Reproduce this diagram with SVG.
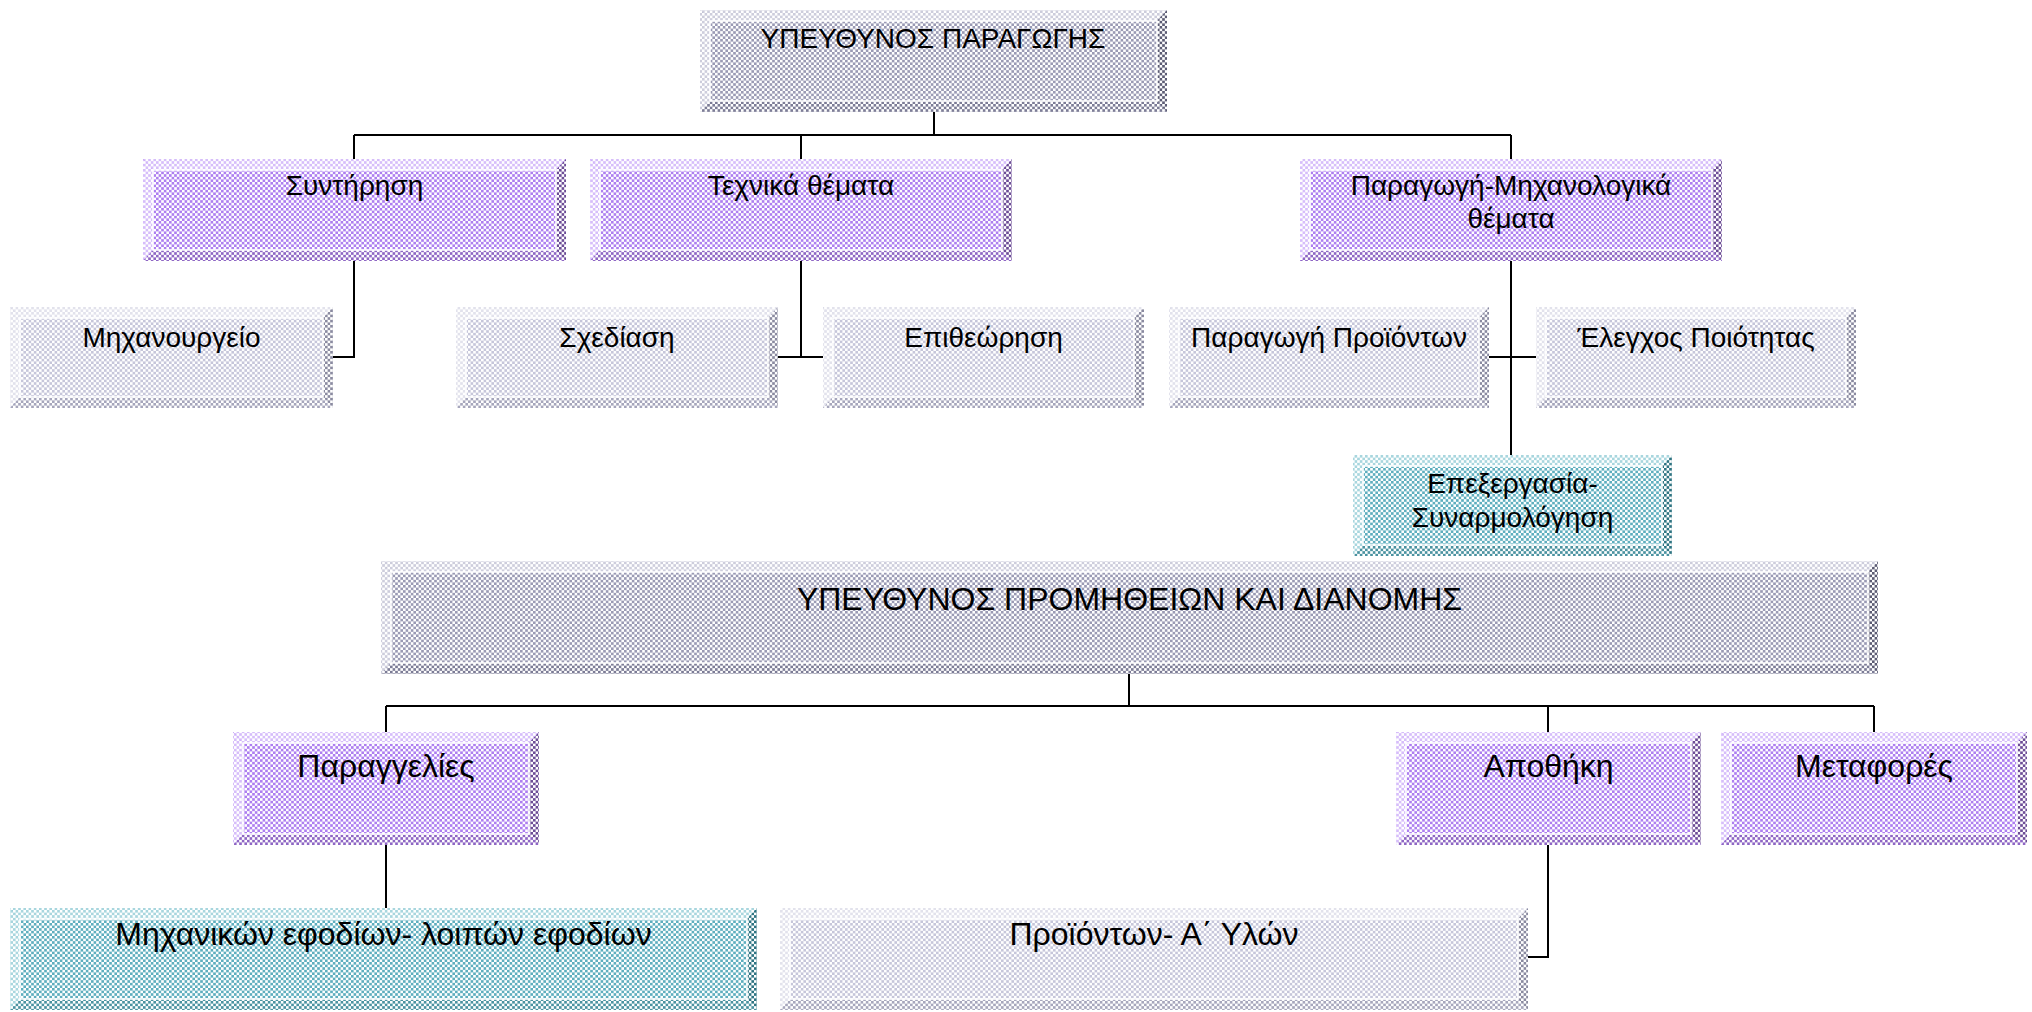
<svg xmlns="http://www.w3.org/2000/svg" width="2032" height="1012" viewBox="0 0 2032 1012">
  <defs>
    <!-- dithered fills: coloured cells alternating with white -->
    <pattern id="pF" width="5.2" height="5.2" patternUnits="userSpaceOnUse"><rect width="5.2" height="5.2" fill="#fff"/><path d="M0 0h2.6v2.6H0zM2.6 2.6h2.6v2.6H2.6z" fill="#ad7ef0"/></pattern>
    <pattern id="pL" width="5.2" height="5.2" patternUnits="userSpaceOnUse"><rect width="5.2" height="5.2" fill="#fff"/><path d="M0 0h2.6v2.6H0zM2.6 2.6h2.6v2.6H2.6z" fill="#d6bdfa"/></pattern>
    <pattern id="pR" width="5.2" height="5.2" patternUnits="userSpaceOnUse"><rect width="5.2" height="5.2" fill="#fff"/><path d="M0 0h2.6v2.6H0zM2.6 2.6h2.6v2.6H2.6z" fill="#6c4c96"/></pattern>
    <pattern id="pB" width="5.2" height="5.2" patternUnits="userSpaceOnUse"><rect width="5.2" height="5.2" fill="#fff"/><path d="M0 0h2.6v2.6H0zM2.6 2.6h2.6v2.6H2.6z" fill="#8e66c4"/></pattern>

    <pattern id="gF" width="5.2" height="5.2" patternUnits="userSpaceOnUse"><rect width="5.2" height="5.2" fill="#fff"/><path d="M0 0h2.6v2.6H0zM2.6 2.6h2.6v2.6H2.6z" fill="#9a9ab4"/></pattern>
    <pattern id="gL" width="5.2" height="5.2" patternUnits="userSpaceOnUse"><rect width="5.2" height="5.2" fill="#fff"/><path d="M0 0h2.6v2.6H0zM2.6 2.6h2.6v2.6H2.6z" fill="#cdcddc"/></pattern>
    <pattern id="gR" width="5.2" height="5.2" patternUnits="userSpaceOnUse"><rect width="5.2" height="5.2" fill="#fff"/><path d="M0 0h2.6v2.6H0zM2.6 2.6h2.6v2.6H2.6z" fill="#5c5c74"/></pattern>
    <pattern id="gB" width="5.2" height="5.2" patternUnits="userSpaceOnUse"><rect width="5.2" height="5.2" fill="#fff"/><path d="M0 0h2.6v2.6H0zM2.6 2.6h2.6v2.6H2.6z" fill="#7c7c96"/></pattern>

    <pattern id="lF" width="5.2" height="5.2" patternUnits="userSpaceOnUse"><rect width="5.2" height="5.2" fill="#fff"/><path d="M0 0h2.6v2.6H0zM2.6 2.6h2.6v2.6H2.6z" fill="#c6c6da"/></pattern>
    <pattern id="lL" width="5.2" height="5.2" patternUnits="userSpaceOnUse"><rect width="5.2" height="5.2" fill="#fff"/><path d="M0 0h2.6v2.6H0zM2.6 2.6h2.6v2.6H2.6z" fill="#e2e2ec"/></pattern>
    <pattern id="lR" width="5.2" height="5.2" patternUnits="userSpaceOnUse"><rect width="5.2" height="5.2" fill="#fff"/><path d="M0 0h2.6v2.6H0zM2.6 2.6h2.6v2.6H2.6z" fill="#8a8aa0"/></pattern>
    <pattern id="lB" width="5.2" height="5.2" patternUnits="userSpaceOnUse"><rect width="5.2" height="5.2" fill="#fff"/><path d="M0 0h2.6v2.6H0zM2.6 2.6h2.6v2.6H2.6z" fill="#a6a6bc"/></pattern>

    <pattern id="tF" width="5.2" height="5.2" patternUnits="userSpaceOnUse"><rect width="5.2" height="5.2" fill="#fff"/><path d="M0 0h2.6v2.6H0zM2.6 2.6h2.6v2.6H2.6z" fill="#5eaebe"/></pattern>
    <pattern id="tL" width="5.2" height="5.2" patternUnits="userSpaceOnUse"><rect width="5.2" height="5.2" fill="#fff"/><path d="M0 0h2.6v2.6H0zM2.6 2.6h2.6v2.6H2.6z" fill="#a8d6de"/></pattern>
    <pattern id="tR" width="5.2" height="5.2" patternUnits="userSpaceOnUse"><rect width="5.2" height="5.2" fill="#fff"/><path d="M0 0h2.6v2.6H0zM2.6 2.6h2.6v2.6H2.6z" fill="#2e7482"/></pattern>
    <pattern id="tB" width="5.2" height="5.2" patternUnits="userSpaceOnUse"><rect width="5.2" height="5.2" fill="#fff"/><path d="M0 0h2.6v2.6H0zM2.6 2.6h2.6v2.6H2.6z" fill="#4a92a0"/></pattern>
  </defs>
  <style>
    text { font-family: "Liberation Sans", Arial, "Noto Sans", sans-serif; fill: #000; text-anchor: middle; font-size: 28px; }
    text.big { font-size: 32px; }
    .hl { fill: none; stroke: #fff; stroke-width: 1.5; }
    .purple .f { fill: url(#pF); } .purple .t, .purple .l { fill: url(#pL); } .purple .r { fill: url(#pR); } .purple .b { fill: url(#pB); }
    .gray .f { fill: url(#gF); } .gray .t, .gray .l { fill: url(#gL); } .gray .r { fill: url(#gR); } .gray .b { fill: url(#gB); }
    .light .f { fill: url(#lF); } .light .t, .light .l { fill: url(#lL); } .light .r { fill: url(#lR); } .light .b { fill: url(#lB); }
    .teal .f { fill: url(#tF); } .teal .t, .teal .l { fill: url(#tL); } .teal .r { fill: url(#tR); } .teal .b { fill: url(#tB); }
    .links path { fill: none; stroke: #000; stroke-width: 2; }
  </style>

  <rect width="2032" height="1012" fill="#fff"/>

  <g class="links" id="connectors">
    <path d="M934,112 V135 M354,135 H1511 M354,135 V159 M801,135 V159 M1511,135 V159"/>
    <path d="M354,261 V357 H333"/>
    <path d="M801,261 V357 M778,357 H823"/>
    <path d="M1511,261 V455 M1489,357 H1536"/>
    <path d="M1129,674 V706 M386,706 H1874 M386,706 V732 M1548,706 V732 M1874,706 V732"/>
    <path d="M386,845 V908"/>
    <path d="M1548,845 V957 H1528"/>
  </g>

  <g id="ypeuthynos-paragogis" class="gray">
    <rect class="f" x="700" y="10" width="467" height="102"/>
    <polygon class="t" points="700,10 1167,10 1157,21 710,21"/>
    <polygon class="l" points="700,10 710,21 710,101 700,112"/>
    <polygon class="r" points="1167,10 1167,112 1157,101 1157,21"/>
    <polygon class="b" points="700,112 710,101 1157,101 1167,112"/>
    <rect class="hl" x="710" y="21" width="447" height="80"/>
    <text x="933" y="48">ΥΠΕΥΘΥΝΟΣ ΠΑΡΑΓΩΓΗΣ</text>
  </g>

  <g id="syntirisi" class="purple">
    <rect class="f" x="143" y="159" width="423" height="102"/>
    <polygon class="t" points="143,159 566,159 556,170 153,170"/>
    <polygon class="l" points="143,159 153,170 153,250 143,261"/>
    <polygon class="r" points="566,159 566,261 556,250 556,170"/>
    <polygon class="b" points="143,261 153,250 556,250 566,261"/>
    <rect class="hl" x="153" y="170" width="403" height="80"/>
    <text x="354.5" y="195">Συντήρηση</text>
  </g>

  <g id="technika-themata" class="purple">
    <rect class="f" x="590" y="159" width="422" height="102"/>
    <polygon class="t" points="590,159 1012,159 1002,170 600,170"/>
    <polygon class="l" points="590,159 600,170 600,250 590,261"/>
    <polygon class="r" points="1012,159 1012,261 1002,250 1002,170"/>
    <polygon class="b" points="590,261 600,250 1002,250 1012,261"/>
    <rect class="hl" x="600" y="170" width="402" height="80"/>
    <text x="801" y="195">Τεχνικά θέματα</text>
  </g>

  <g id="paragogi-mixanologika" class="purple">
    <rect class="f" x="1300" y="159" width="422" height="102"/>
    <polygon class="t" points="1300,159 1722,159 1712,170 1310,170"/>
    <polygon class="l" points="1300,159 1310,170 1310,250 1300,261"/>
    <polygon class="r" points="1722,159 1722,261 1712,250 1712,170"/>
    <polygon class="b" points="1300,261 1310,250 1712,250 1722,261"/>
    <rect class="hl" x="1310" y="170" width="402" height="80"/>
    <text x="1511" y="195">Παραγωγή-Μηχανολογικά</text>
    <text x="1511" y="228">θέματα</text>
  </g>

  <g id="mixanourgeio" class="light">
    <rect class="f" x="10" y="307" width="323" height="101"/>
    <polygon class="t" points="10,307 333,307 323,318 20,318"/>
    <polygon class="l" points="10,307 20,318 20,397 10,408"/>
    <polygon class="r" points="333,307 333,408 323,397 323,318"/>
    <polygon class="b" points="10,408 20,397 323,397 333,408"/>
    <rect class="hl" x="20" y="318" width="303" height="79"/>
    <text x="171.5" y="347">Μηχανουργείο</text>
  </g>

  <g id="sxediasi" class="light">
    <rect class="f" x="456" y="307" width="322" height="101"/>
    <polygon class="t" points="456,307 778,307 768,318 466,318"/>
    <polygon class="l" points="456,307 466,318 466,397 456,408"/>
    <polygon class="r" points="778,307 778,408 768,397 768,318"/>
    <polygon class="b" points="456,408 466,397 768,397 778,408"/>
    <rect class="hl" x="466" y="318" width="302" height="79"/>
    <text x="617" y="347">Σχεδίαση</text>
  </g>

  <g id="epitheorisi" class="light">
    <rect class="f" x="823" y="307" width="321" height="101"/>
    <polygon class="t" points="823,307 1144,307 1134,318 833,318"/>
    <polygon class="l" points="823,307 833,318 833,397 823,408"/>
    <polygon class="r" points="1144,307 1144,408 1134,397 1134,318"/>
    <polygon class="b" points="823,408 833,397 1134,397 1144,408"/>
    <rect class="hl" x="833" y="318" width="301" height="79"/>
    <text x="983.5" y="347">Επιθεώρηση</text>
  </g>

  <g id="paragogi-proionton" class="light">
    <rect class="f" x="1169" y="307" width="320" height="101"/>
    <polygon class="t" points="1169,307 1489,307 1479,318 1179,318"/>
    <polygon class="l" points="1169,307 1179,318 1179,397 1169,408"/>
    <polygon class="r" points="1489,307 1489,408 1479,397 1479,318"/>
    <polygon class="b" points="1169,408 1179,397 1479,397 1489,408"/>
    <rect class="hl" x="1179" y="318" width="300" height="79"/>
    <text x="1329" y="347">Παραγωγή Προϊόντων</text>
  </g>

  <g id="elegxos-poiotitas" class="light">
    <rect class="f" x="1536" y="307" width="320" height="101"/>
    <polygon class="t" points="1536,307 1856,307 1846,318 1546,318"/>
    <polygon class="l" points="1536,307 1546,318 1546,397 1536,408"/>
    <polygon class="r" points="1856,307 1856,408 1846,397 1846,318"/>
    <polygon class="b" points="1536,408 1546,397 1846,397 1856,408"/>
    <rect class="hl" x="1546" y="318" width="300" height="79"/>
    <text x="1696" y="347">Έλεγχος Ποιότητας</text>
  </g>

  <g id="epexergasia" class="teal">
    <rect class="f" x="1353" y="455" width="319" height="101"/>
    <polygon class="t" points="1353,455 1672,455 1662,466 1363,466"/>
    <polygon class="l" points="1353,455 1363,466 1363,545 1353,556"/>
    <polygon class="r" points="1672,455 1672,556 1662,545 1662,466"/>
    <polygon class="b" points="1353,556 1363,545 1662,545 1672,556"/>
    <rect class="hl" x="1363" y="466" width="299" height="79"/>
    <text x="1512.5" y="493">Επεξεργασία-</text>
    <text x="1512.5" y="527">Συναρμολόγηση</text>
  </g>

  <g id="ypeuthynos-promitheion" class="gray">
    <rect class="f" x="381" y="561" width="1497" height="113"/>
    <polygon class="t" points="381,561 1878,561 1868,572 391,572"/>
    <polygon class="l" points="381,561 391,572 391,663 381,674"/>
    <polygon class="r" points="1878,561 1878,674 1868,663 1868,572"/>
    <polygon class="b" points="381,674 391,663 1868,663 1878,674"/>
    <rect class="hl" x="391" y="572" width="1477" height="91"/>
    <text class="big" x="1129.5" y="610">ΥΠΕΥΘΥΝΟΣ ΠΡΟΜΗΘΕΙΩΝ ΚΑΙ ΔΙΑΝΟΜΗΣ</text>
  </g>

  <g id="paraggelies" class="purple">
    <rect class="f" x="233" y="732" width="306" height="113"/>
    <polygon class="t" points="233,732 539,732 529,743 243,743"/>
    <polygon class="l" points="233,732 243,743 243,834 233,845"/>
    <polygon class="r" points="539,732 539,845 529,834 529,743"/>
    <polygon class="b" points="233,845 243,834 529,834 539,845"/>
    <rect class="hl" x="243" y="743" width="286" height="91"/>
    <text class="big" x="386" y="777">Παραγγελίες</text>
  </g>

  <g id="apothiki" class="purple">
    <rect class="f" x="1396" y="732" width="305" height="113"/>
    <polygon class="t" points="1396,732 1701,732 1691,743 1406,743"/>
    <polygon class="l" points="1396,732 1406,743 1406,834 1396,845"/>
    <polygon class="r" points="1701,732 1701,845 1691,834 1691,743"/>
    <polygon class="b" points="1396,845 1406,834 1691,834 1701,845"/>
    <rect class="hl" x="1406" y="743" width="285" height="91"/>
    <text class="big" x="1548.5" y="777">Αποθήκη</text>
  </g>

  <g id="metafores" class="purple">
    <rect class="f" x="1721" y="732" width="306" height="113"/>
    <polygon class="t" points="1721,732 2027,732 2017,743 1731,743"/>
    <polygon class="l" points="1721,732 1731,743 1731,834 1721,845"/>
    <polygon class="r" points="2027,732 2027,845 2017,834 2017,743"/>
    <polygon class="b" points="1721,845 1731,834 2017,834 2027,845"/>
    <rect class="hl" x="1731" y="743" width="286" height="91"/>
    <text class="big" x="1874" y="777">Μεταφορές</text>
  </g>

  <g id="mixanikon-efodion" class="teal">
    <rect class="f" x="10" y="908" width="747" height="102"/>
    <polygon class="t" points="10,908 757,908 747,919 20,919"/>
    <polygon class="l" points="10,908 20,919 20,999 10,1010"/>
    <polygon class="r" points="757,908 757,1010 747,999 747,919"/>
    <polygon class="b" points="10,1010 20,999 747,999 757,1010"/>
    <rect class="hl" x="20" y="919" width="727" height="80"/>
    <text class="big" x="383.5" y="945">Μηχανικών εφοδίων- λοιπών εφοδίων</text>
  </g>

  <g id="proionton-ylon" class="light">
    <rect class="f" x="780" y="908" width="748" height="102"/>
    <polygon class="t" points="780,908 1528,908 1518,919 790,919"/>
    <polygon class="l" points="780,908 790,919 790,999 780,1010"/>
    <polygon class="r" points="1528,908 1528,1010 1518,999 1518,919"/>
    <polygon class="b" points="780,1010 790,999 1518,999 1528,1010"/>
    <rect class="hl" x="790" y="919" width="728" height="80"/>
    <text class="big" x="1154" y="945">Προϊόντων- Α΄ Υλών</text>
  </g>
</svg>
